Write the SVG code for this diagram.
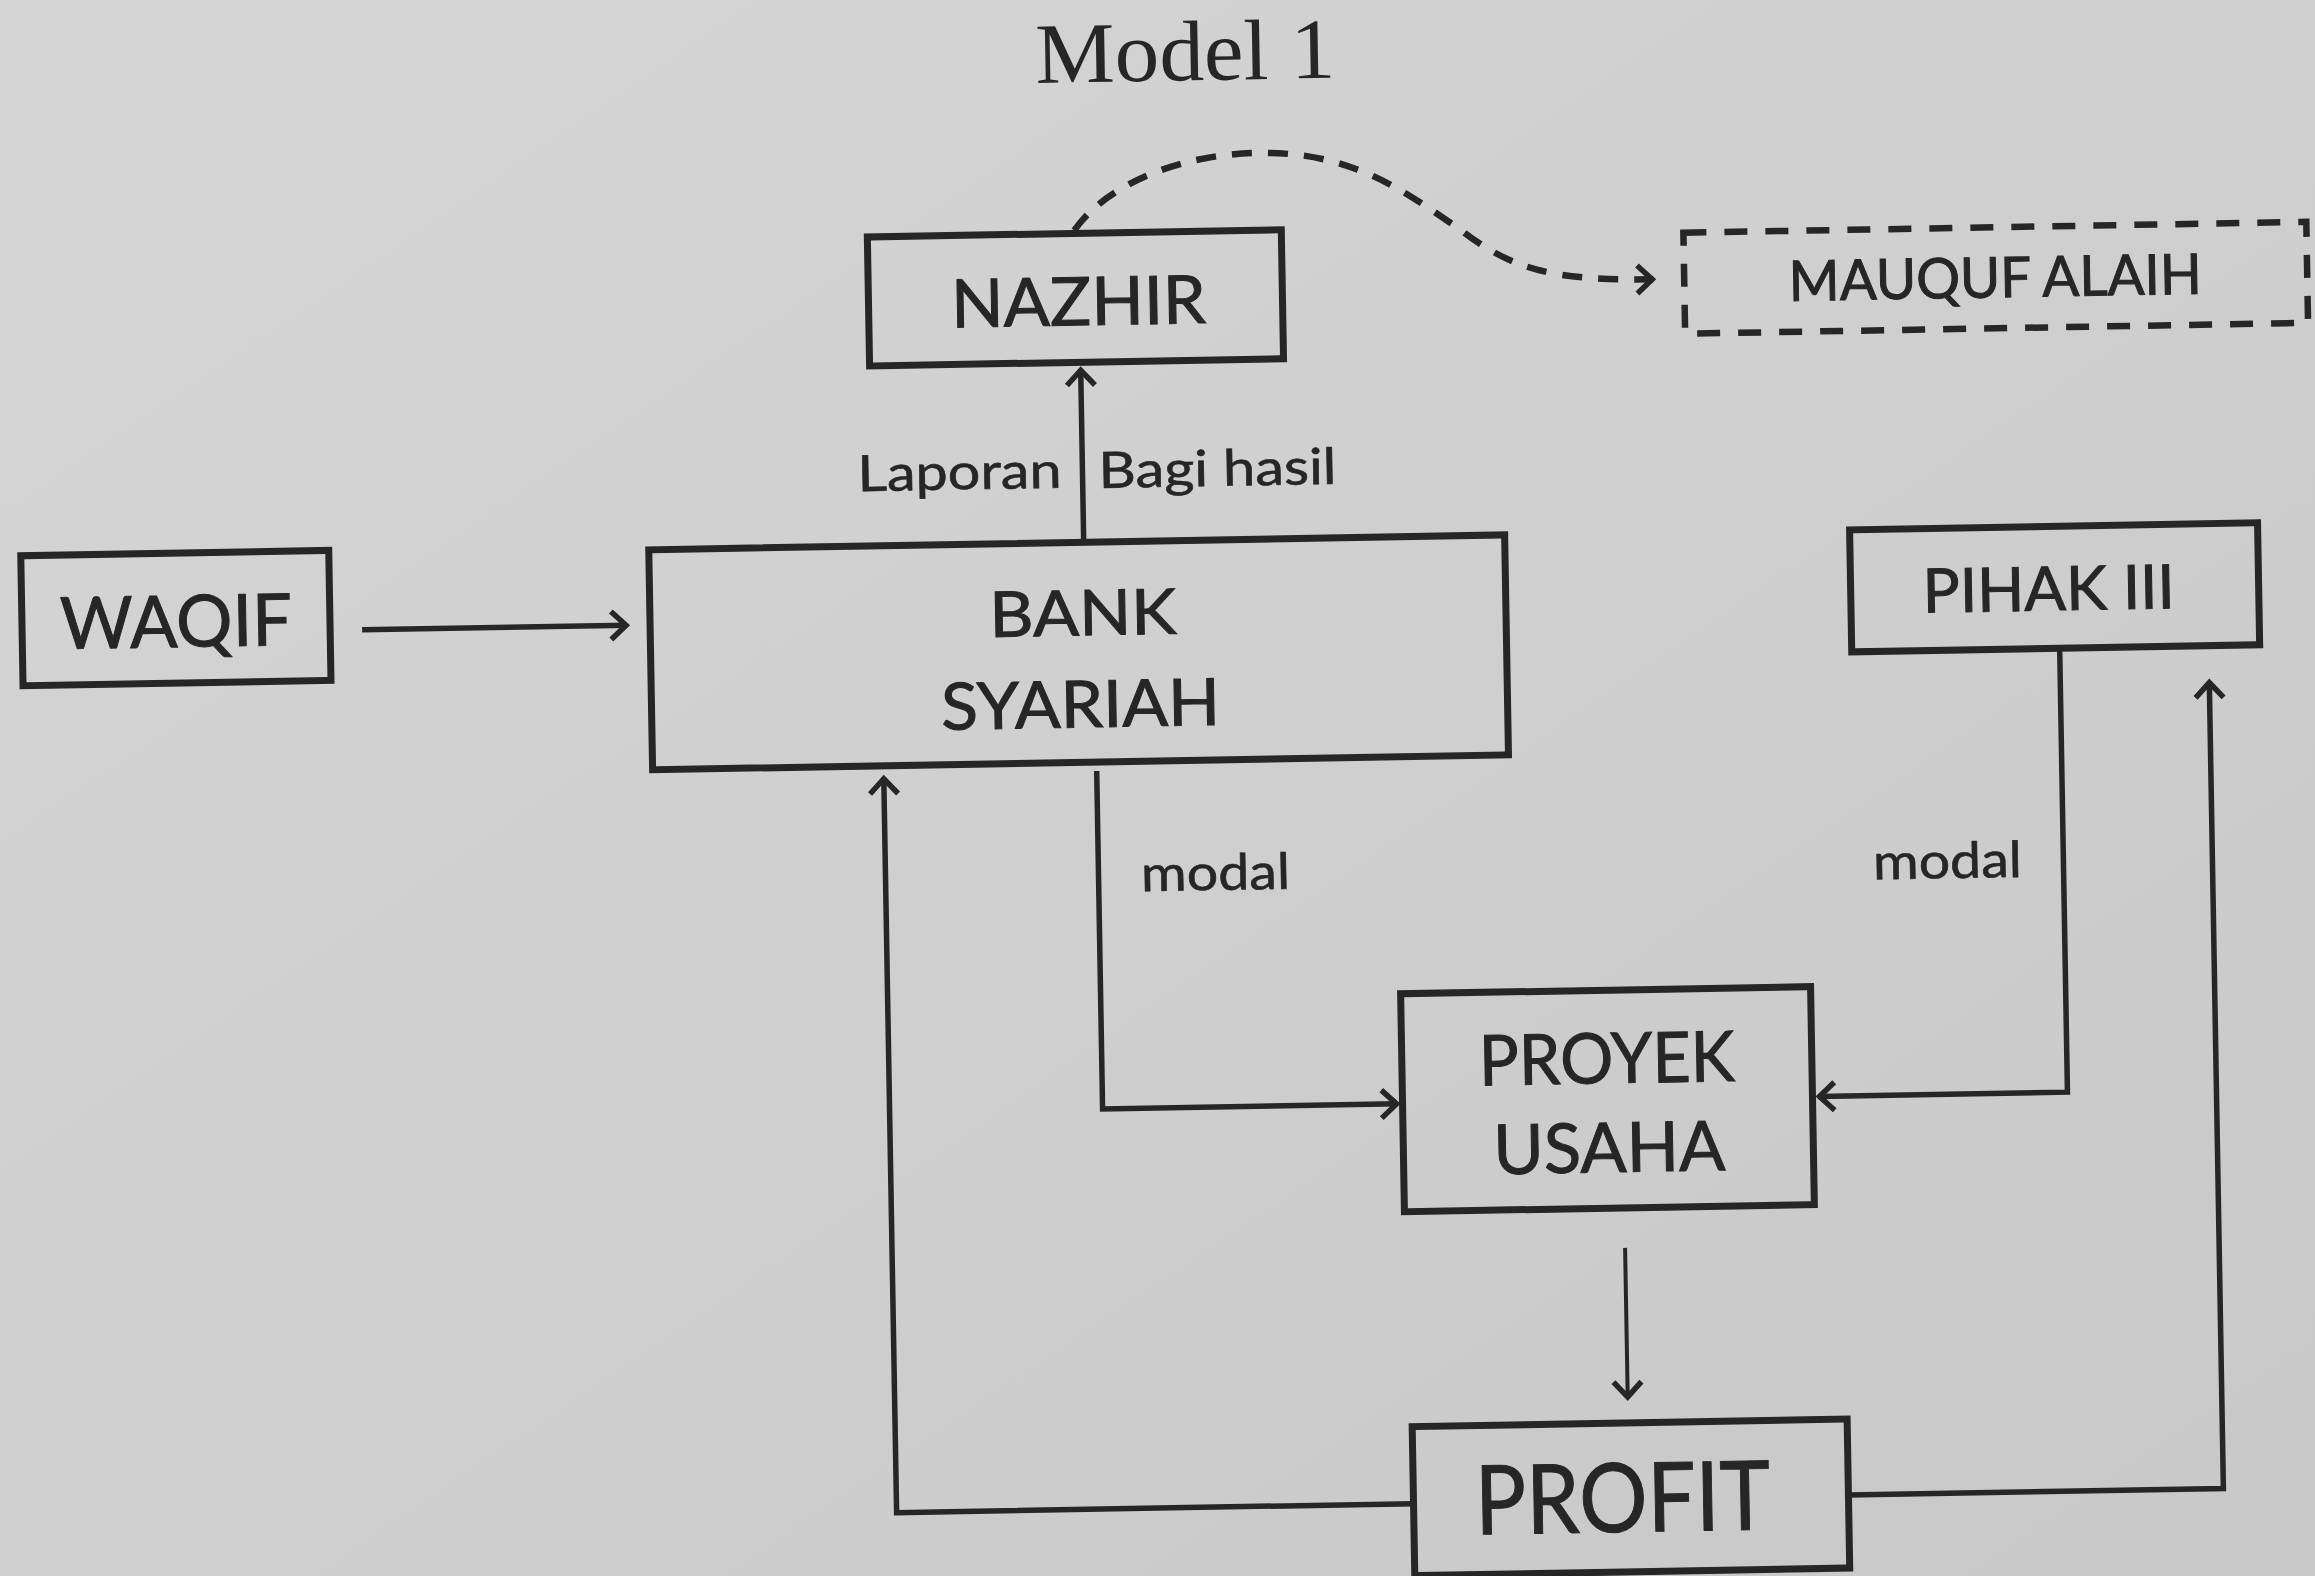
<svg xmlns="http://www.w3.org/2000/svg" width="2315" height="1576" viewBox="0 0 2315 1576">
  <defs>
    <linearGradient id="paper" x1="0" y1="0" x2="1" y2="1">
      <stop offset="0" stop-color="#d5d5d5"/>
      <stop offset="0.5" stop-color="#cfcfcf"/>
      <stop offset="1" stop-color="#c8c8c8"/>
    </linearGradient>
    <marker id="chev" viewBox="0 0 40 40" markerUnits="userSpaceOnUse" markerWidth="40" markerHeight="40" refX="21" refY="20" orient="auto">
      <path d="M5,6 L20,20 L5,34" fill="none" stroke="#262626" stroke-width="5.5" stroke-linejoin="miter"/>
    </marker>
    <style>
      .box { fill: none; stroke: #262626; stroke-width: 7; }
      .dashbox { fill: none; stroke: #262626; stroke-width: 6.5; stroke-dasharray: 23 18; }
      .conn { fill: none; stroke: #262626; stroke-width: 5.5; marker-end: url(#chev); }
      .thin { stroke-width: 4; }
      .dashed { stroke-dasharray: 20 16; stroke-width: 6.5; }
      .lbl { font-family: Lato, "Open Sans", "DejaVu Sans", sans-serif; fill: #262626; stroke: #262626; stroke-width: 1; text-anchor: middle; }
      .edge { font-family: Lato, "Open Sans", "DejaVu Sans", sans-serif; fill: #262626; stroke: #262626; stroke-width: 0.6; font-size: 50px; }
      .title { font-family: "Liberation Serif", "DejaVu Serif", serif; fill: #262626; font-size: 86px; text-anchor: middle; }
    </style>
  </defs>

  <rect x="0" y="0" width="2315" height="1576" fill="url(#paper)"/>

  <g transform="rotate(-1 1157 788)">
    <g id="title">
      <text class="title" x="1198" y="81" textLength="300" lengthAdjust="spacingAndGlyphs">Model 1</text>
    </g>

    <!-- connectors -->
    <g id="connectors">
      <path class="conn" d="M365,616 L630,616"/>
      <path class="conn" d="M1088,541 L1088,368"/>
      <path class="conn dashed" d="M1084,229 C1120,180 1200,152 1280,155 C1370,158 1420,200 1470,235 C1520,275 1560,288 1662,288"/>
      <path class="conn" d="M1097,770 L1097,1108 L1392,1108"/>
      <path class="conn" d="M2062,664 L2062,1108 L1813,1108"/>
      <path class="conn thin" d="M1617,1256 L1617,1406"/>
      <path class="conn" d="M1401,1508 L884,1508 L884,773"/>
      <path class="conn" d="M1836,1507 L2211,1507 L2211,700"/>
    </g>

    <g id="edge-labels">
      <text class="edge" x="1067" y="486" text-anchor="end" textLength="204" lengthAdjust="spacingAndGlyphs">Laporan</text>
      <text class="edge" x="1104" y="487" textLength="238" lengthAdjust="spacingAndGlyphs">Bagi hasil</text>
      <text class="edge" x="1214" y="891" text-anchor="middle" font-size="52" textLength="149" lengthAdjust="spacingAndGlyphs">modal</text>
      <text class="edge" x="1946" y="892" text-anchor="middle" font-size="52" textLength="149" lengthAdjust="spacingAndGlyphs">modal</text>
    </g>

    <!-- nodes -->
    <g id="nazhir">
      <rect class="box" x="877" y="232" width="414" height="129"/>
      <text class="lbl" x="1087" y="324" font-size="67" textLength="255" lengthAdjust="spacingAndGlyphs">NAZHIR</text>
    </g>

    <g id="mauquf-alaih">
      <rect class="dashbox" x="1693" y="242" width="623" height="101"/>
      <text class="lbl" x="2004" y="312" font-size="56" textLength="413" lengthAdjust="spacingAndGlyphs">MAUQUF ALAIH</text>
    </g>

    <g id="waqif">
      <rect class="box" x="25" y="536" width="308" height="130"/>
      <text class="lbl" x="179" y="630" font-size="72" textLength="232" lengthAdjust="spacingAndGlyphs">WAQIF</text>
    </g>

    <g id="bank-syariah">
      <rect class="box" x="653" y="541" width="856" height="220"/>
      <text class="lbl" x="1086" y="634" font-size="63" textLength="187" lengthAdjust="spacingAndGlyphs">BANK</text>
      <text class="lbl" x="1082" y="726" font-size="65" textLength="279" lengthAdjust="spacingAndGlyphs">SYARIAH</text>
    </g>

    <g id="pihak-iii">
      <rect class="box" x="1854" y="542" width="408" height="122"/>
      <text class="lbl" x="2052" y="626" font-size="61" textLength="252" lengthAdjust="spacingAndGlyphs">PIHAK III</text>
    </g>

    <g id="proyek-usaha">
      <rect class="box" x="1397" y="998" width="410" height="218"/>
      <text class="lbl" x="1602" y="1091" font-size="70" textLength="256" lengthAdjust="spacingAndGlyphs">PROYEK</text>
      <text class="lbl" x="1603" y="1180" font-size="69" textLength="232" lengthAdjust="spacingAndGlyphs">USAHA</text>
    </g>

    <g id="profit">
      <rect class="box" x="1401" y="1431" width="435" height="149"/>
      <text class="lbl" x="1610" y="1540" font-size="96" textLength="295" lengthAdjust="spacingAndGlyphs">PROFIT</text>
    </g>
  </g>
</svg>
